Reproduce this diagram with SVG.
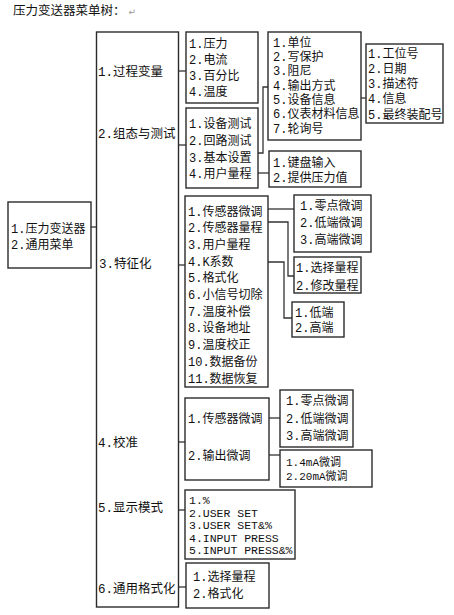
<svg xmlns="http://www.w3.org/2000/svg" width="454" height="615" viewBox="0 0 454 615">
<style>
.box{fill:#fff;stroke:#2b2b2b;stroke-width:1.4}
.t{font-family:'Liberation Mono','Noto Sans CJK SC',monospace;font-size:12px;fill:#111}
.ts{font-family:'Liberation Mono','Noto Sans CJK SC',monospace;font-size:11px;fill:#111}
.tm{font-family:'Liberation Mono','Noto Sans CJK SC',monospace;font-size:12.5px;fill:#111}
.mono{font-family:'Liberation Mono',monospace;font-size:11.5px;fill:#111}
.title{font-family:'Noto Sans CJK SC','Liberation Sans',sans-serif;font-size:12.5px;fill:#111}
.mark{font-family:'DejaVu Sans',sans-serif;font-size:9px;fill:#999}
.c{fill:none;stroke:#333;stroke-width:1.3}
</style>
<rect width="454" height="615" fill="#fff"/>
<g id="title"><text class="title" x="13" y="15">压力变送器菜单树：<tspan class="mark" dx="3">↵</tspan></text></g>

<g id="connectors">
<path class="c" d="M91 227H96.5"/>
<path class="c" d="M178.5 71H186"/>
<path class="c" d="M178.5 145H186"/>
<path class="c" d="M178.5 265H185"/>
<path class="c" d="M178.5 442H185"/>
<path class="c" d="M178.5 510H185"/>
<path class="c" d="M178.5 587H186"/>
<path class="c" d="M258 153H263V87H268"/>
<path class="c" d="M258 173H269"/>
<path class="c" d="M361 98H366"/>
<path class="c" d="M268 209H294"/>
<path class="c" d="M268 222H288V276H294"/>
<path class="c" d="M268 262H284V318H292"/>
<path class="c" d="M269 418H280"/>
<path class="c" d="M269 455H280"/>
</g>

<g id="n-root"><rect class="box" x="8" y="202" width="83" height="66"/>
<text class="t" x="11" y="232.5">1.压力变送器</text>
<text class="t" x="11" y="248.5">2.通用菜单</text></g>

<g id="n-main"><rect class="box" x="96.5" y="32" width="82" height="575"/>
<text class="tm" x="98" y="75.5">1.过程变量</text>
<text class="tm" x="98" y="137.5">2.组态与测试</text>
<text class="tm" x="99" y="267.5">3.特征化</text>
<text class="tm" x="98" y="446.5">4.校准</text>
<text class="tm" x="98" y="511.5">5.显示模式</text>
<text class="tm" x="98" y="592.5">6.通用格式化</text></g>

<g id="n-process"><rect class="box" x="186" y="32" width="72" height="71"/>
<text class="t" x="189" y="47.5">1.压力</text>
<text class="t" x="189" y="63.5">2.电流</text>
<text class="t" x="189" y="79.5">3.百分比</text>
<text class="t" x="189" y="95.5">4.温度</text></g>

<g id="n-config"><rect class="box" x="186" y="108" width="72" height="80"/>
<text class="t" x="189" y="127.5">1.设备测试</text>
<text class="t" x="189" y="144.5">2.回路测试</text>
<text class="t" x="189" y="161.5">3.基本设置</text>
<text class="t" x="189" y="177.5">4.用户量程</text></g>

<g id="n-basic"><rect class="box" x="268" y="32" width="93" height="108"/>
<text class="t" x="273" y="46.5">1.单位</text>
<text class="t" x="273" y="60.8">2.写保护</text>
<text class="t" x="273" y="75.2">3.阻尼</text>
<text class="t" x="273" y="89.5">4.输出方式</text>
<text class="t" x="273" y="103.8">5.设备信息</text>
<text class="t" x="273" y="118.2">6.仪表材料信息</text>
<text class="t" x="273" y="132.5">7.轮询号</text></g>

<g id="n-devinfo"><rect class="box" x="366" y="44" width="77" height="79"/>
<text class="t" x="368" y="57.5">1.工位号</text>
<text class="t" x="368" y="72.5">2.日期</text>
<text class="t" x="368" y="87.5">3.描述符</text>
<text class="t" x="368" y="102.5">4.信息</text>
<text class="t" x="368" y="118.5">5.最终装配号</text></g>

<g id="n-userrange"><rect class="box" x="269" y="151" width="92" height="36"/>
<text class="t" x="273" y="166.5">1.键盘输入</text>
<text class="t" x="273" y="181.5">2.提供压力值</text></g>

<g id="n-char"><rect class="box" x="185" y="196" width="83" height="191"/>
<text class="t" x="188" y="215.5">1.传感器微调</text>
<text class="t" x="188" y="232.2">2.传感器量程</text>
<text class="t" x="188" y="248.9">3.用户量程</text>
<text class="t" x="188" y="265.6">4.K系数</text>
<text class="t" x="188" y="282.3">5.格式化</text>
<text class="t" x="188" y="299">6.小信号切除</text>
<text class="t" x="188" y="315.7">7.温度补偿</text>
<text class="t" x="188" y="332.4">8.设备地址</text>
<text class="t" x="188" y="349.1">9.温度校正</text>
<text class="t" x="188" y="365.8">10.数据备份</text>
<text class="t" x="188" y="382.5">11.数据恢复</text></g>

<g id="n-trim1"><rect class="box" x="294" y="195" width="77" height="57"/>
<text class="t" x="300" y="209.5">1.零点微调</text>
<text class="t" x="300" y="226.5">2.低端微调</text>
<text class="t" x="300" y="243.5">3.高端微调</text></g>

<g id="n-range"><rect class="box" x="294" y="257" width="67" height="36"/>
<text class="t" x="296" y="271.5">1.选择量程</text>
<text class="t" x="296" y="289.5">2.修改量程</text></g>

<g id="n-kfactor"><rect class="box" x="292" y="302" width="52" height="35"/>
<text class="t" x="295" y="316.5">1.低端</text>
<text class="t" x="295" y="331.5">2.高端</text></g>

<g id="n-calib"><rect class="box" x="185" y="398" width="84" height="82"/>
<text class="t" x="188" y="422.5">1.传感器微调</text>
<text class="t" x="188" y="459.5">2.输出微调</text></g>

<g id="n-trim2"><rect class="box" x="280" y="390" width="73" height="57"/>
<text class="t" x="286" y="404.5">1.零点微调</text>
<text class="t" x="286" y="422.5">2.低端微调</text>
<text class="t" x="286" y="439.5">3.高端微调</text></g>

<g id="n-outtrim"><rect class="box" x="280" y="450" width="92" height="37"/>
<text class="ts" x="286" y="465.5">1.4mA微调</text>
<text class="ts" x="286" y="479.5">2.20mA微调</text></g>

<g id="n-display"><rect class="box" x="185" y="490" width="110" height="69"/>
<text class="mono" x="189" y="504.2">1.%</text>
<text class="mono" x="189" y="516.7">2.USER SET</text>
<text class="mono" x="189" y="529.2">3.USER SET&amp;%</text>
<text class="mono" x="189" y="541.7">4.INPUT PRESS</text>
<text class="mono" x="189" y="554.2">5.INPUT PRESS&amp;%</text></g>

<g id="n-format"><rect class="box" x="186" y="563" width="83" height="45"/>
<text class="t" x="193" y="580.5">1.选择量程</text>
<text class="t" x="193" y="597.5">2.格式化</text></g>
</svg>
